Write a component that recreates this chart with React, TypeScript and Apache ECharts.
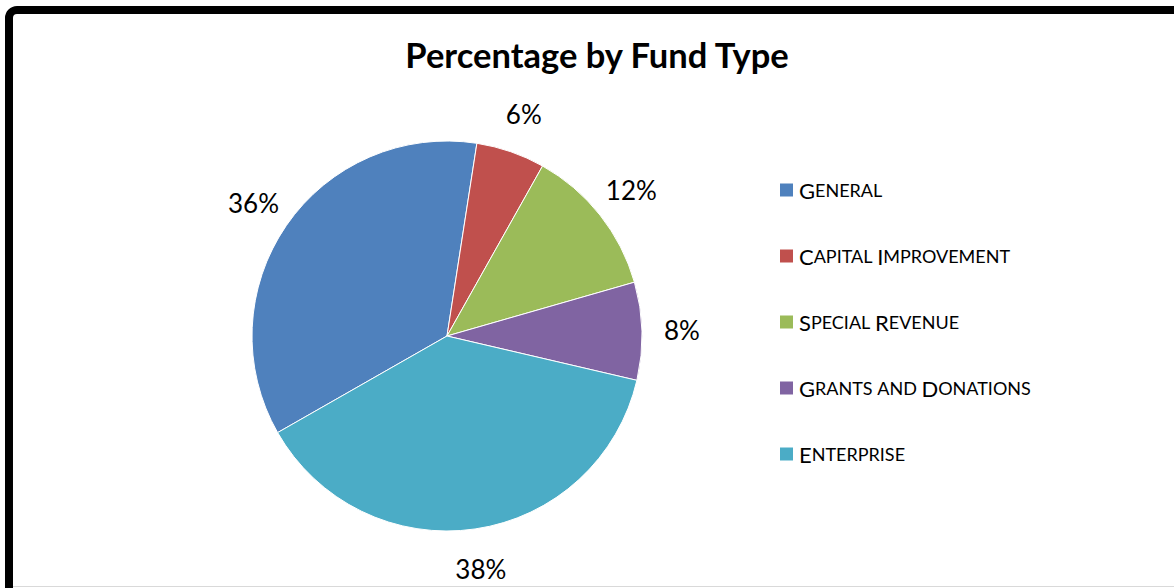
import React, { useEffect, useRef } from "react";
import * as echarts from "echarts";

const categories = ["General", "Capital Improvement", "Special Revenue", "Grants and Donations", "Enterprise"];
const values = [35.7, 5.7, 12.4, 8.1, 38.1];
const colors = ["#4F81BD", "#C0504D", "#9BBB59", "#8064A2", "#4BACC6"];
const titleText = "Percentage by Fund Type";

function smallCaps(name: string): string {
  return name
    .split(" ")
    .map((w) => {
      const first = w.charAt(0);
      const rest = w.slice(1);
      if (first === first.toUpperCase() && first !== first.toLowerCase()) {
        return `{big|${first}}` + (rest ? `{sm|${rest.toUpperCase()}}` : "");
      }
      return `{sm|${w.toUpperCase()}}`;
    })
    .join("{sm| }");
}

export default function App() {
  const ref = useRef<HTMLDivElement>(null);
  useEffect(() => {
    if (!ref.current) return;
    const chart = echarts.init(ref.current, null, { renderer: "svg" });
    const data = categories.map((c, i) => ({ name: c, value: values[i] }));
    chart.setOption({
      animation: false,
      backgroundColor: "#ffffff",
      color: colors,
      title: {
        text: titleText,
        left: 592,
        top: 32,
        textAlign: "center",
        textStyle: { fontFamily: "Lato", fontWeight: "bold", fontSize: 34.5, color: "#000" },
      },
      legend: {
        orient: "vertical",
        left: 778,
        top: 179,
        padding: 0,
        itemWidth: 15,
        itemHeight: 15,
        itemGap: 44,
        icon: "rect",
        data: categories,
        formatter: (n: string) => smallCaps(n),
        textStyle: {
          fontFamily: "Lato",
          color: "#000",
          padding: 0,
          lineHeight: 20,
          rich: {
            big: { fontFamily: "Lato", fontSize: 22, color: "#000", lineHeight: 20 },
            sm: { fontFamily: "Lato", fontSize: 18, color: "#000", lineHeight: 20 },
          },
        },
      },
      graphic: [
        {
          type: "rect",
          shape: { x: 9, y: 10, width: 1200, height: 700, r: 8 },
          style: { fill: "none", stroke: "#000", lineWidth: 8 },
          silent: true,
        },
        {
          type: "line",
          shape: { x1: 13, y1: 586.5, x2: 1174, y2: 586.5 },
          style: { stroke: "#d9d9d9", lineWidth: 1 },
          silent: true,
        },
      ],
      series: [
        {
          type: "pie",
          center: [447, 336],
          radius: [0, 195],
          startAngle: 209.7,
          clockwise: true,
          data,
          label: { show: false },
          labelLine: { show: false },
          itemStyle: { borderColor: "#ffffff", borderWidth: 1 },
          emphasis: { disabled: true },
          silent: true,
        },
        {
          type: "pie",
          center: [447, 336],
          radius: [222, 242],
          startAngle: 209.7,
          clockwise: true,
          percentPrecision: 0,
          data,
          itemStyle: { color: "rgba(0,0,0,0)" },
          label: {
            show: true,
            position: "inside",
            formatter: "{d}%",
            fontFamily: "Lato",
            fontSize: 26,
            color: "#000",
          },
          labelLine: { show: false },
          emphasis: { disabled: true },
          silent: true,
          legendHoverLink: false,
        },
      ],
    });
    return () => chart.dispose();
  }, []);
  return (
    <div
      ref={ref}
      style={{ position: "absolute", left: 0, top: 0, width: 1174, height: 588 }}
    />
  );
}
